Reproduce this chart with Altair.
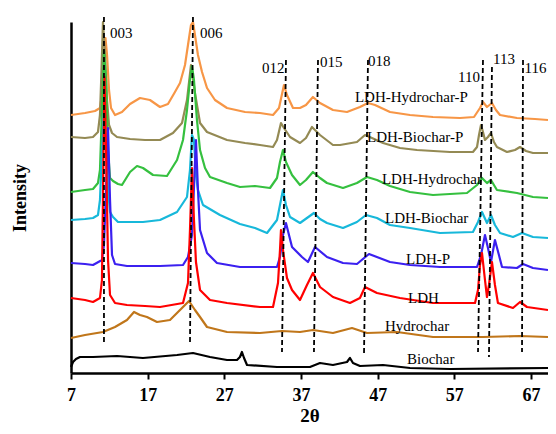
import altair as alt
import pandas as pd

SERIES = ["LDH-Hydrochar-P", "LDH-Biochar-P", "LDH-Hydrochar", "LDH-Biochar",
          "LDH-P", "LDH", "Hydrochar", "Biochar"]
COLORS = ["#F79646", "#948A54", "#35C03F", "#17B8DA", "#3B20F0", "#FF0000",
          "#C0761A", "#000000"]

# 2-theta positions and stacked (offset) intensities
hcp_x = [7.00, 8.83, 10.13, 10.78, 11.04, 11.30, 11.50, 11.70, 11.96, 12.22, 12.74, 13.65, 14.70, 16.00,
         17.30, 18.61, 19.65, 20.56, 21.22, 21.87, 22.26, 22.65, 22.91, 23.17, 23.56, 24.09, 24.74, 25.78,
         27.35, 29.70, 31.65, 33.35, 34.13, 34.78, 35.17, 35.96, 36.87, 37.65, 38.56, 39.48, 41.17, 43.00,
         44.69, 45.74, 46.65, 48.61, 51.22, 54.22, 57.74, 59.57, 60.35, 60.74, 61.26, 61.91, 62.43, 62.96,
         65.17, 67.52, 69.22]
hcp_y = [258, 260, 262, 265, 278, 313, 335, 318, 283, 265, 258, 261, 269, 275,
         273, 266, 269, 281, 290, 308, 328, 348, 351, 338, 318, 301, 285, 273,
         265, 261, 260, 258, 265, 288, 278, 265, 265, 268, 276, 270, 263, 261,
         266, 270, 268, 261, 258, 256, 255, 256, 265, 271, 266, 270, 263, 258,
         255, 254, 253]

bcp_x = [7.00, 8.83, 9.87, 10.52, 10.78, 10.98, 11.17, 11.43, 11.70, 11.96, 12.35, 13.00, 14.70, 16.65,
         18.61, 20.30, 21.48, 22.13, 22.65, 23.17, 23.83, 24.74, 27.35, 29.70, 31.65, 33.35, 33.87, 34.39,
         34.78, 35.57, 36.87, 37.65, 38.43, 39.48, 41.17, 42.09, 44.30, 45.35, 46.26, 47.70, 49.91, 52.13,
         56.43, 59.43, 59.96, 60.22, 60.48, 60.74, 61.00, 61.39, 61.78, 62.17, 62.56, 63.87, 64.91, 65.57,
         66.35, 67.26, 69.22]
bcp_y = [236, 235, 236, 241, 258, 303, 351, 318, 273, 248, 240, 236, 234, 233,
         233, 240, 250, 273, 308, 280, 250, 241, 233, 230, 228, 226, 233, 250,
         245, 236, 230, 235, 246, 238, 228, 228, 231, 238, 235, 230, 225, 223,
         221, 221, 226, 238, 248, 241, 233, 236, 240, 231, 226, 221, 223, 226,
         222, 220, 220]

hc_x = [7.00, 8.83, 9.87, 10.52, 10.78, 11.04, 11.30, 11.57, 11.83, 12.09, 12.48, 13.13, 13.65, 14.70,
        15.61, 16.39, 17.70, 19.52, 20.83, 21.61, 22.13, 22.52, 22.78, 23.04, 23.43, 23.83, 24.48, 25.13,
        27.35, 29.04, 31.00, 32.96, 33.87, 34.26, 34.65, 35.04, 35.83, 36.87, 37.65, 38.56, 39.48, 40.39,
        42.48, 44.30, 45.61, 46.91, 48.61, 51.22, 54.22, 58.65, 59.96, 60.61, 61.26, 61.78, 62.56, 65.17,
        67.26, 69.22]
hc_y = [181, 183, 184, 190, 203, 263, 323, 293, 223, 195, 192, 189, 188, 201,
        207, 205, 198, 197, 213, 233, 263, 293, 307, 293, 253, 223, 205, 196,
        190, 186, 187, 185, 195, 211, 223, 211, 198, 188, 193, 201, 195, 190,
        185, 190, 196, 193, 187, 181, 178, 180, 188, 195, 190, 193, 183, 180,
        176, 175]

bc_x = [7.00, 8.83, 9.87, 10.52, 10.78, 11.04, 11.30, 11.57, 11.83, 12.09, 12.48, 13.13, 14.70, 16.39,
        18.61, 20.83, 22.13, 22.52, 22.78, 23.04, 23.30, 23.56, 24.22, 26.43, 29.04, 31.00, 32.57, 33.87,
        34.26, 34.65, 35.04, 35.57, 36.87, 37.78, 38.69, 39.48, 40.39, 42.48, 44.30, 45.48, 46.91, 48.61,
        51.22, 55.13, 59.43, 60.09, 60.61, 61.26, 61.78, 62.30, 62.96, 64.65, 65.83, 67.26, 69.22]
bc_y = [153, 154, 155, 158, 173, 223, 263, 233, 183, 161, 156, 151, 151, 151,
        153, 161, 176, 203, 238, 233, 198, 183, 168, 158, 149, 145, 140, 153,
        168, 183, 168, 156, 150, 155, 160, 154, 150, 145, 151, 158, 155, 148,
        145, 140, 141, 151, 161, 150, 158, 148, 140, 136, 140, 136, 135]

p_x = [7.00, 8.83, 9.87, 11.04, 11.30, 11.57, 11.83, 12.09, 12.35, 12.74, 14.30, 16.65, 18.61, 21.61,
       22.26, 22.78, 23.30, 23.56, 23.83, 24.74, 26.04, 29.04, 31.65, 33.87, 34.26, 34.65, 35.04, 35.83,
       37.13, 37.91, 38.83, 40.39, 42.48, 44.30, 45.87, 48.61, 51.22, 55.13, 59.96, 60.48, 61.00, 61.39,
       61.78, 62.30, 62.82, 63.22, 65.17, 65.96, 67.26, 69.22]
p_y = [110, 109, 108, 113, 128, 183, 245, 173, 118, 109, 107, 107, 107, 108,
       116, 138, 233, 183, 143, 120, 110, 106, 106, 106, 116, 138, 150, 126,
       116, 111, 126, 116, 110, 109, 119, 111, 108, 106, 106, 118, 138, 125,
       111, 133, 118, 106, 105, 109, 105, 103]

ldh_x = [7.00, 8.83, 9.87, 10.78, 11.04, 11.24, 11.37, 11.57, 11.83, 12.09, 12.74, 14.30, 16.65, 18.61,
         21.61, 22.26, 22.52, 22.78, 23.04, 23.30, 23.83, 25.13, 27.35, 31.65, 33.35, 34.00, 34.26, 34.39,
         34.65, 35.17, 35.83, 36.87, 37.78, 38.56, 39.48, 41.17, 43.39, 44.69, 45.35, 46.91, 49.91, 54.22,
         59.70, 60.09, 60.35, 60.61, 61.00, 61.26, 61.52, 61.91, 62.30, 62.69, 64.65, 65.57, 66.48, 69.22]
ldh_y = [75, 73, 71, 75, 93, 223, 296, 223, 113, 78, 70, 68, 67, 66,
         70, 90, 143, 205, 153, 111, 83, 73, 70, 66, 66, 90, 123, 143,
         123, 95, 83, 73, 88, 100, 86, 76, 70, 75, 86, 80, 75, 70,
         70, 83, 108, 120, 93, 76, 88, 111, 88, 70, 65, 71, 66, 63]

h_x = [7.00, 8.83, 11.17, 12.74, 14.30, 15.22, 16.00, 16.91, 18.22, 19.91, 21.61, 22.39, 23.17, 23.83,
       24.74, 27.35, 31.65, 34.52, 36.87, 38.56, 41.17, 43.65, 45.61, 49.52, 54.22, 60.74, 65.57, 69.22]
h_y = [35, 38, 41, 46, 53, 61, 58, 56, 51, 53, 66, 72, 63, 56,
       46, 41, 40, 42, 41, 43, 40, 45, 40, 41, 36, 36, 37, 36]

b_x = [7.00, 7.26, 7.65, 8.17, 9.87, 13.00, 16.39, 20.83, 22.91, 25.13, 27.35, 28.65, 29.04, 29.30,
       29.57, 29.96, 33.87, 38.17, 39.48, 41.17, 43.00, 43.39, 43.78, 44.69, 47.70, 51.22, 56.43, 69.22]
b_y = [6, 11, 14, 16, 16, 17, 15, 18, 20, 16, 13, 13, 16, 21,
       15, 8, 6, 6, 10, 8, 11, 15, 10, 7, 8, 5, 4, 5]

XS = [hcp_x, bcp_x, hc_x, bc_x, p_x, ldh_x, h_x, b_x]
YS = [hcp_y, bcp_y, hc_y, bc_y, p_y, ldh_y, h_y, b_y]

# series name labels (start position, in data units)
name_x = [44.04, 45.61, 47.56, 47.96, 50.70, 50.96, 47.96, 50.83]
name_y = [276, 236, 194, 155, 114, 75, 47, 14]

# reflection guides: label, top/bottom x, top/bottom y, label position
hkl = ["003", "006", "012", "015", "018", "110", "113", "116"]
hkl_xt = [11.30, 22.91, 35.04, 39.22, 45.74, 60.74, 61.91, 65.96]
hkl_xb = [11.30, 22.52, 34.52, 38.69, 45.22, 60.09, 61.52, 65.83]
hkl_yt = [356, 356, 313, 313, 313, 313, 306, 313]
hkl_yb = [30, 30, 21, 21, 19, 21, 16, 21]
hkl_lx = [12.09, 23.83, 31.91, 39.48, 45.74, 57.48, 62.04, 66.15]
hkl_ly = [340, 340, 305, 311, 312, 296, 314, 305]

rows = []
for name, xs, ys in zip(SERIES, XS, YS):
    for i, (x, y) in enumerate(zip(xs, ys)):
        rows.append({"series": name, "theta": x, "intensity": y, "i": i})
df = pd.DataFrame(rows)

names_df = pd.DataFrame({"name": SERIES, "x": name_x, "y": name_y})
hkl_df = pd.DataFrame({"hkl": hkl, "xt": hkl_xt, "xb": hkl_xb, "yt": hkl_yt,
                       "yb": hkl_yb, "lx": hkl_lx, "ly": hkl_ly})

FONT = "Liberation Serif"
xscale = alt.Scale(domain=[7, 69.22], nice=False, zero=False)
yscale = alt.Scale(domain=[0, 351], nice=False, zero=False)

lines = alt.Chart(df).mark_line(strokeWidth=2.2, strokeJoin="round").encode(
    x=alt.X("theta:Q", scale=xscale,
            axis=alt.Axis(values=[7, 17, 27, 37, 47, 57, 67], title="2θ", grid=False,
                          labelFont=FONT, labelFontSize=18, labelFontWeight="bold",
                          labelColor="black", labelPadding=7, labelFlush=False,
                          titleFont=FONT, titleFontSize=19, titleFontWeight="bold",
                          titleColor="black", titlePadding=2,
                          domainColor="black", domainWidth=2.5,
                          tickColor="black", tickWidth=2, tickSize=6)),
    y=alt.Y("intensity:Q", scale=yscale,
            axis=alt.Axis(title="Intensity", labels=False, ticks=False, grid=False,
                          titleFont=FONT, titleFontSize=18, titleFontWeight="bold",
                          titleColor="black", titlePadding=42,
                          domainColor="black", domainWidth=2.5)),
    color=alt.Color("series:N", scale=alt.Scale(domain=SERIES, range=COLORS), legend=None),
    order=alt.Order("i:Q"),
)

rules = alt.Chart(hkl_df).mark_rule(color="black", strokeWidth=1.8, strokeDash=[5, 3]).encode(
    x=alt.X("xt:Q", scale=xscale), x2="xb:Q",
    y=alt.Y("yt:Q", scale=yscale), y2="yb:Q",
)

hkl_text = alt.Chart(hkl_df).mark_text(align="left", baseline="middle", font=FONT,
                                       fontSize=15, color="black").encode(
    x=alt.X("lx:Q", scale=xscale), y=alt.Y("ly:Q", scale=yscale), text="hkl:N"
)

name_text = alt.Chart(names_df).mark_text(align="left", baseline="middle", font=FONT,
                                          fontSize=15, color="black").encode(
    x=alt.X("x:Q", scale=xscale), y=alt.Y("y:Q", scale=yscale), text="name:N"
)

chart = alt.layer(lines, rules, hkl_text, name_text).properties(
    width=477, height=351,
    autosize=alt.AutoSizeParams(type="none"),
    padding={"left": 63, "top": 14, "right": 0, "bottom": 53},
    background="white",
).configure_view(stroke=None)

chart.save("out.html", embed_options={"renderer": "svg", "actions": False})
